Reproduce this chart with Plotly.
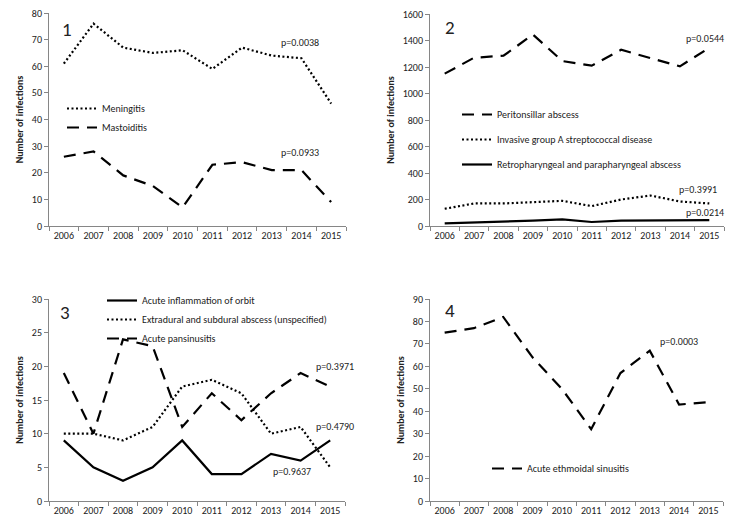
import plotly.graph_objects as go

years = ["2006", "2007", "2008", "2009", "2010", "2011", "2012", "2013", "2014", "2015"]

# Panel 1
meningitis = [61, 76, 67, 65, 66, 59, 67, 64, 63, 46]
mastoiditis = [26, 28, 19, 15, 7, 23, 24, 21, 21, 9]
# Panel 2
peritonsillar = [1150, 1270, 1285, 1445, 1245, 1210, 1330, 1265, 1205, 1345]
invasive_gas = [130, 170, 170, 180, 190, 150, 200, 230, 185, 170]
retropharyngeal = [20, 25, 35, 40, 50, 30, 40, 40, 40, 45]
# Panel 3
orbit = [9, 5, 3, 5, 9, 4, 4, 7, 6, 9]
extradural = [10, 10, 9, 11, 17, 18, 16, 10, 11, 5]
pansinusitis = [19, 10, 24, 23, 11, 16, 12, 16, 19, 17]
# Panel 4
ethmoidal = [75, 77, 82, 64, 50, 32, 57, 67, 43, 44]

FONT = "Carlito, Lato, sans-serif"
DASH = "12px,8px"
DOT = "2px,2.5px"
SOLID = "solid"
W = 740
H = 527

fig = go.Figure()

def add(y, name, dash, xa, ya, legend):
    fig.add_trace(go.Scatter(
        x=years, y=y, name=name, mode="lines",
        line=dict(color="black", width=2.2, dash=dash),
        xaxis=xa, yaxis=ya, legend=legend, legendgroup=name,
        hoverinfo="x+y+name"))

add(meningitis, "Meningitis", DOT, "x", "y", "legend")
add(mastoiditis, "Mastoiditis", DASH, "x", "y", "legend")
add(peritonsillar, "Peritonsillar abscess", DASH, "x2", "y2", "legend2")
add(invasive_gas, "Invasive group A streptococcal disease", DOT, "x2", "y2", "legend2")
add(retropharyngeal, "Retropharyngeal and parapharyngeal abscess", SOLID, "x2", "y2", "legend2")
add(orbit, "Acute inflammation of orbit", SOLID, "x3", "y3", "legend3")
add(extradural, "Extradural and subdural abscess (unspecified)", DOT, "x3", "y3", "legend3")
add(pansinusitis, "Acute pansinusitis", DASH, "x3", "y3", "legend3")
add(ethmoidal, "Acute ethmoidal sinusitis", DASH, "x4", "y4", "legend4")

# panel pixel boxes: (left, right, top, bottom)
boxes = {
    "1": (49, 346, 13, 226),
    "2": (430, 724, 14, 226),
    "3": (49, 345, 299, 501),
    "4": (430, 723, 299, 501),
}
yranges = {"1": (80, 10), "2": (1600, 200), "3": (30, 5), "4": (90, 10)}

axis_col = "#868686"
tick_font = dict(family=FONT, size=10, color="#222222")
for k, (l, r, t, b) in boxes.items():
    suf = "" if k == "1" else k
    ymax, dt = yranges[k]
    fig.layout["xaxis" + suf] = dict(
        domain=[l / W, r / W], anchor="y" + suf, type="category",
        range=[-0.5, 9.5], tickson="boundaries", ticks="outside", ticklen=4,
        tickcolor=axis_col, showline=True, linecolor=axis_col, linewidth=1,
        showgrid=False, zeroline=False, tickfont=tick_font, automargin=False)
    fig.layout["yaxis" + suf] = dict(
        domain=[1 - b / H, 1 - t / H], anchor="x" + suf,
        range=[0, ymax], dtick=dt, ticks="outside", ticklen=4,
        tickcolor=axis_col, showline=True, linecolor=axis_col, linewidth=1,
        showgrid=False, zeroline=False, tickfont=tick_font, automargin=False,
        title=dict(text="<b>Number of infections</b>", standoff=6,
                   font=dict(family=FONT, size=10, color="#222222")))

ann = []
def txt(text, px, py, size=10, xanchor="center"):
    ann.append(dict(text=text, x=px / W, y=1 - py / H, xref="paper", yref="paper",
                    showarrow=False, xanchor=xanchor, yanchor="middle",
                    font=dict(family=FONT, size=size, color="#222222")))

txt("1", 67, 29, 19)
txt("2", 450, 28, 19)
txt("3", 65, 312, 19)
txt("4", 450, 310, 19)

txt("p=0.0038", 300, 42)
txt("p=0.0933", 300, 153)
txt("p=0.0544", 705, 39)
txt("p=0.3991", 698, 189)
txt("p=0.0214", 705, 212)
txt("p=0.3971", 335, 366)
txt("p=0.4790", 335, 426)
txt("p=0.9637", 292, 471)
txt("p=0.0003", 679, 341)

leg_font = dict(family=FONT, size=10, color="#222222")
def legend(px, py, gap=0, order="normal"):
    return dict(x=px / W, y=1 - py / H, xanchor="left", yanchor="top",
                bgcolor="rgba(0,0,0,0)", borderwidth=0, font=leg_font,
                tracegroupgap=gap, itemwidth=30, traceorder=order)

fig.update_layout(
    width=W, height=H,
    margin=dict(l=0, r=0, t=0, b=0, autoexpand=False),
    paper_bgcolor="white", plot_bgcolor="white",
    showlegend=True,
    legend=legend(62, 94),
    legend2=legend(457, 100, 6, "grouped"),
    legend3=legend(102, 286),
    legend4=legend(487, 454),
    annotations=ann,
    font=dict(family=FONT, size=10, color="#222222"),
)

fig.write_html("out.html", config={"displayModeBar": False},
               post_script="document.body.style.margin='0';document.body.style.overflow='hidden';")
